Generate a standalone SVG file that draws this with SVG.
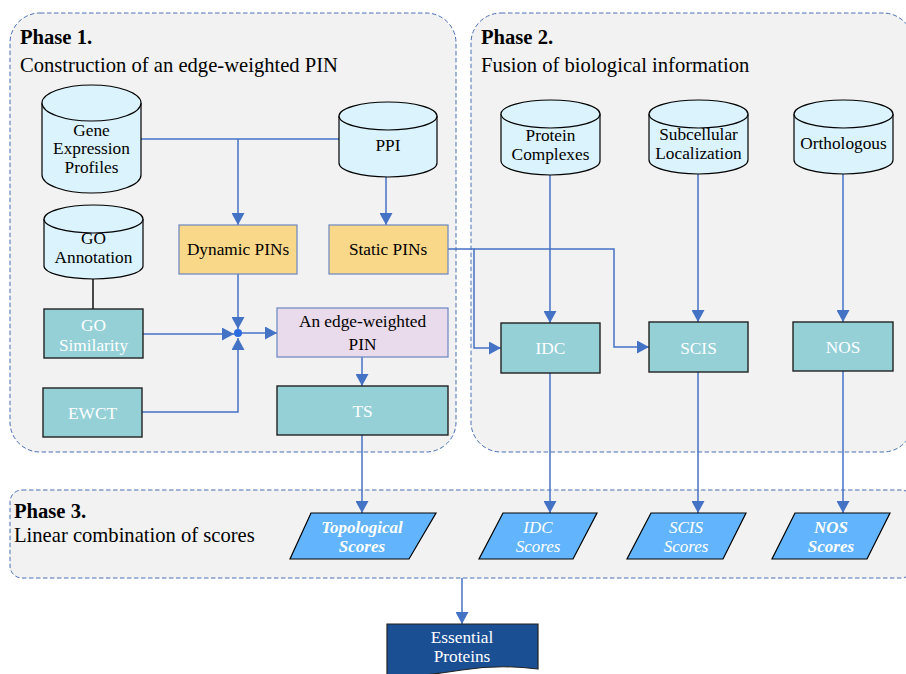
<svg xmlns="http://www.w3.org/2000/svg" width="906" height="674" viewBox="0 0 906 674" font-family="'Liberation Serif', 'Times New Roman', serif">
<defs>
<marker id="ah" markerUnits="userSpaceOnUse" markerWidth="13" markerHeight="13" refX="12" refY="6.5" orient="auto">
<path d="M0,0 L12,6.5 L0,13 Z" fill="#4472c4"/>
</marker>
</defs>
<style>
text{font-family:"Liberation Serif","Times New Roman",serif;}
.phase{fill:#f2f2f2;stroke:#4a6fb5;stroke-width:1;stroke-dasharray:4.5 2.5;}
.title{font-size:20.6px;font-weight:bold;fill:#000;}
.sub{font-size:20.6px;fill:#000;}
.cyl{fill:#dbf3fc;stroke:#000;stroke-width:1.2;}
.nt{font-size:17.3px;fill:#000;text-anchor:middle;}
.wt{font-size:17.3px;fill:#fff;text-anchor:middle;}
.yel{fill:#f9d889;stroke:#6a86c0;stroke-width:1.2;}
.teal{fill:#95d0d7;stroke:#222;stroke-width:1.4;}
.pur{fill:#e9dbeb;stroke:#6a86c0;stroke-width:1.2;}
.par{fill:#62b5fc;stroke:#000;stroke-width:1.2;}
.it{font-size:17px;fill:#fff;text-anchor:middle;font-style:italic;}
.bit{font-size:17px;fill:#fff;text-anchor:middle;font-style:italic;font-weight:bold;}
.c{fill:none;stroke:#4472c4;stroke-width:1.5;}
.ca{fill:none;stroke:#4472c4;stroke-width:1.5;marker-end:url(#ah);}
</style>

<g id="phase1">
<rect class="phase" x="10" y="13" width="446" height="439" rx="30"/>
<text class="title" x="20" y="44">Phase 1.</text>
<text class="sub" x="20" y="72">Construction of an edge-weighted PIN</text>
</g>
<g id="phase2">
<rect class="phase" x="471" y="13" width="442" height="439" rx="30"/>
<text class="title" x="481" y="44">Phase 2.</text>
<text class="sub" x="481" y="72">Fusion of biological information</text>
</g>
<g id="phase3">
<rect class="phase" x="10" y="490" width="903" height="88" rx="12"/>
<text class="title" x="14" y="518">Phase 3.</text>
<text class="sub" x="14" y="542">Linear combination of scores</text>
</g>

<g id="connectors">
<path class="c" d="M141,139 H339"/>
<path class="ca" d="M238,139 V225"/>
<path class="ca" d="M386,177 V225"/>
<path d="M93,279 V309" fill="none" stroke="#000" stroke-width="1.4"/>
<path class="ca" d="M238,274 V329"/>
<path class="ca" d="M143,334 H234"/>
<path class="ca" d="M142,412 H238 V338"/>
<path class="ca" d="M242,333 H277"/>
<circle cx="238" cy="333" r="4" fill="#2a6be0"/>
<path class="ca" d="M362,357 V386"/>
<path class="ca" d="M362,435 V513"/>
<path class="ca" d="M448,249 H474 V348 H501"/>
<path class="ca" d="M474,249 H614 V347 H649"/>
<path class="ca" d="M550,175 V323"/>
<path class="ca" d="M698,174 V322"/>
<path class="ca" d="M843,174 V322"/>
<path class="ca" d="M550,373 V513"/>
<path class="ca" d="M698,372 V513"/>
<path class="ca" d="M843,371 V513"/>
<path class="ca" d="M462,578 V624"/>
</g>

<g id="gene-expression">
<path class="cyl" d="M42,103 V175 A49.5,18 0 0 0 141,175 V103"/>
<ellipse class="cyl" cx="91.5" cy="103" rx="49.5" ry="18"/>
<text class="nt" x="91.5" y="136">Gene</text>
<text class="nt" x="91.5" y="154">Expression</text>
<text class="nt" x="91.5" y="173">Profiles</text>
</g>
<g id="ppi">
<path class="cyl" d="M339,116 V163 A49,14 0 0 0 437,163 V116"/>
<ellipse class="cyl" cx="388" cy="116" rx="49" ry="14"/>
<text class="nt" x="388" y="151">PPI</text>
</g>
<g id="go-annotation">
<path class="cyl" d="M44,219 V266 A49.5,13 0 0 0 143,266 V219"/>
<ellipse class="cyl" cx="93.5" cy="219" rx="49.5" ry="14"/>
<text class="nt" x="93.5" y="244">GO</text>
<text class="nt" x="93.5" y="263">Annotation</text>
</g>
<g id="dynamic-pins">
<rect class="yel" x="179" y="225" width="118" height="49"/>
<text class="nt" x="238" y="255">Dynamic PINs</text>
</g>
<g id="static-pins">
<rect class="yel" x="329" y="225" width="119" height="49"/>
<text class="nt" x="388" y="255">Static PINs</text>
</g>
<g id="go-similarity">
<rect class="teal" x="44" y="309" width="99" height="49"/>
<text class="wt" x="93.5" y="331">GO</text>
<text class="wt" x="93.5" y="351">Similarity</text>
</g>
<g id="ewct">
<rect class="teal" x="43" y="388" width="99" height="49"/>
<text class="wt" x="92.5" y="419">EWCT</text>
</g>
<g id="edge-weighted-pin">
<rect class="pur" x="277" y="308" width="171" height="49"/>
<text class="nt" x="362.5" y="327">An edge-weighted</text>
<text class="nt" x="362.5" y="350">PIN</text>
</g>
<g id="ts">
<rect class="teal" x="277" y="386" width="171" height="49"/>
<text class="wt" x="362.5" y="417">TS</text>
</g>

<g id="protein-complexes">
<path class="cyl" d="M501,114 V161 A49.5,14 0 0 0 600,161 V114"/>
<ellipse class="cyl" cx="550.5" cy="114" rx="49.5" ry="14"/>
<text class="nt" x="550.5" y="141">Protein</text>
<text class="nt" x="550.5" y="160">Complexes</text>
</g>
<g id="subcellular-localization">
<path class="cyl" d="M649,114 V160 A49.5,14 0 0 0 748,160 V114"/>
<ellipse class="cyl" cx="698.5" cy="114" rx="49.5" ry="14"/>
<text class="nt" x="698.5" y="140">Subcellular</text>
<text class="nt" x="698.5" y="159">Localization</text>
</g>
<g id="orthologous">
<path class="cyl" d="M794,114 V160 A49.5,14 0 0 0 893,160 V114"/>
<ellipse class="cyl" cx="843.5" cy="114" rx="49.5" ry="14"/>
<text class="nt" x="843.5" y="149">Orthologous</text>
</g>
<g id="idc">
<rect class="teal" x="501" y="323" width="99" height="50"/>
<text class="wt" x="550.5" y="354">IDC</text>
</g>
<g id="scis">
<rect class="teal" x="649" y="322" width="99" height="50"/>
<text class="wt" x="698.5" y="354">SCIS</text>
</g>
<g id="nos">
<rect class="teal" x="793" y="322" width="100" height="49"/>
<text class="wt" x="843" y="353">NOS</text>
</g>

<g id="topological-scores">
<polygon class="par" points="311,513 436,513 409,559 290,559"/>
<text class="bit" x="362" y="533">Topological</text>
<text class="bit" x="362" y="552">Scores</text>
</g>
<g id="idc-scores">
<polygon class="par" points="503,513 597,513 573,559 479,559"/>
<text class="it" x="538" y="533">IDC</text>
<text class="it" x="538" y="552">Scores</text>
</g>
<g id="scis-scores">
<polygon class="par" points="651,513 746,513 723,559 627,559"/>
<text class="it" x="686" y="533">SCIS</text>
<text class="it" x="686" y="552">Scores</text>
</g>
<g id="nos-scores">
<polygon class="par" points="795,513 890,513 867,559 772,559"/>
<text class="bit" x="831" y="533">NOS</text>
<text class="bit" x="831" y="552">Scores</text>
</g>

<g id="essential-proteins">
<path d="M387,624 H538 V669 Q500,664 462,670 T387,678 Z" fill="#1b4f93" stroke="#222" stroke-width="1.2"/>
<text class="wt" x="462" y="643">Essential</text>
<text class="wt" x="462" y="662">Proteins</text>
</g>
</svg>
